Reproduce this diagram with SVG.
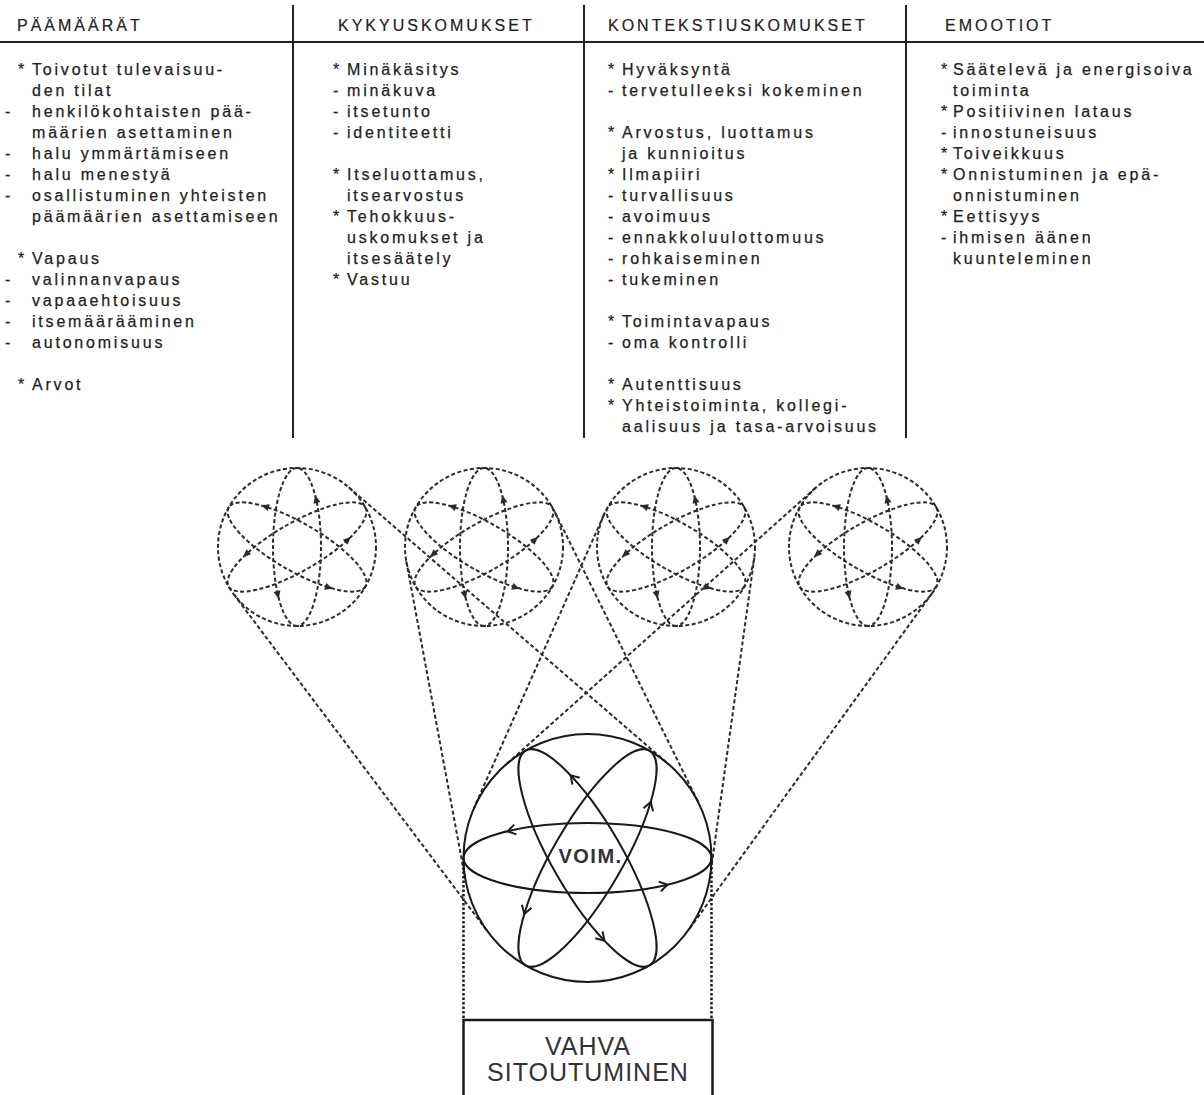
<svg xmlns="http://www.w3.org/2000/svg" xmlns:xlink="http://www.w3.org/1999/xlink" width="1204" height="1095" viewBox="0 0 1204 1095">
<style>
.hd{font-family:"Liberation Sans",Arial,sans-serif;font-size:16px;letter-spacing:3px;fill:#222;stroke:#222;stroke-width:0.2}
.tx{font-family:"Liberation Sans",Arial,sans-serif;font-size:16px;letter-spacing:2.8px;fill:#222;stroke:#222;stroke-width:0.25}
.rule{stroke:#222;stroke-width:2;fill:none}
.dash{fill:none;stroke:#2b2b2b;stroke-width:2;stroke-dasharray:4 2.5}
.solid{fill:none;stroke:#1a1a1a;stroke-width:2}
.ah{fill:#2b2b2b}
.chev{fill:none;stroke:#1a1a1a;stroke-width:2}
.vdot{stroke:#1a1a1a;stroke-width:2.5;stroke-dasharray:2.5 2;fill:none}
.voim{font-family:"Liberation Sans",Arial,sans-serif;font-size:20px;font-weight:bold;letter-spacing:1.5px;fill:#333}
.box{font-family:"Liberation Sans",Arial,sans-serif;font-size:25px;letter-spacing:1px;fill:#333}
</style>
<defs>
<path id="tri" d="M4,0 L-4,-3.5 L-4,3.5Z"/>
<path id="chv" d="M-8,-5 L0,0 L-8,5"/>
<g id="orb-s">
<ellipse rx="79" ry="24" class="dash"/>
<use xlink:href="#tri" class="ah" transform="translate(48,19.1) rotate(-13)"/>
<use xlink:href="#tri" class="ah" transform="translate(-48,-19.1) rotate(167)"/>
</g>
<g id="atom-s">
<circle r="79" class="dash"/>
<use xlink:href="#orb-s" transform="rotate(90)"/>
<use xlink:href="#orb-s" transform="rotate(30)"/>
<use xlink:href="#orb-s" transform="rotate(-30)"/>
</g>
<g id="orb-b">
<ellipse rx="124" ry="35" class="solid"/>
<use xlink:href="#chv" class="chev" transform="translate(80,26.7) rotate(-13)"/>
<use xlink:href="#chv" class="chev" transform="translate(-80,-26.7) rotate(167)"/>
</g>
</defs>
<rect width="1204" height="1095" fill="#fff"/>

<g id="table-rules">
<line class="rule" x1="0" y1="42" x2="1204" y2="42"/>
<line class="rule" x1="293" y1="5" x2="293" y2="438"/>
<line class="rule" x1="584" y1="5" x2="584" y2="438"/>
<line class="rule" x1="906" y1="5" x2="906" y2="438"/>
</g>

<g id="col-paamaarat">
<text class="hd" x="17" y="31">PÄÄMÄÄRÄT</text>
<text class="tx" y="75"><tspan x="18">*</tspan><tspan x="32">Toivotut tulevaisuu-</tspan></text>
<text class="tx" x="32" y="96">den tilat</text>
<text class="tx" y="117"><tspan x="5">-</tspan><tspan x="32">henkilökohtaisten pää-</tspan></text>
<text class="tx" x="32" y="138">määrien asettaminen</text>
<text class="tx" y="159"><tspan x="5">-</tspan><tspan x="32">halu ymmärtämiseen</tspan></text>
<text class="tx" y="180"><tspan x="5">-</tspan><tspan x="32">halu menestyä</tspan></text>
<text class="tx" y="201"><tspan x="5">-</tspan><tspan x="32">osallistuminen yhteisten</tspan></text>
<text class="tx" x="32" y="222">päämäärien asettamiseen</text>
<text class="tx" y="264"><tspan x="18">*</tspan><tspan x="32">Vapaus</tspan></text>
<text class="tx" y="285"><tspan x="5">-</tspan><tspan x="32">valinnanvapaus</tspan></text>
<text class="tx" y="306"><tspan x="5">-</tspan><tspan x="32">vapaaehtoisuus</tspan></text>
<text class="tx" y="327"><tspan x="5">-</tspan><tspan x="32">itsemäärääminen</tspan></text>
<text class="tx" y="348"><tspan x="5">-</tspan><tspan x="32">autonomisuus</tspan></text>
<text class="tx" y="390"><tspan x="18">*</tspan><tspan x="32">Arvot</tspan></text>
</g>

<g id="col-kykyuskomukset">
<text class="hd" x="338" y="31">KYKYUSKOMUKSET</text>
<text class="tx" y="75"><tspan x="333">*</tspan><tspan x="347">Minäkäsitys</tspan></text>
<text class="tx" y="96"><tspan x="333">-</tspan><tspan x="347">minäkuva</tspan></text>
<text class="tx" y="117"><tspan x="333">-</tspan><tspan x="347">itsetunto</tspan></text>
<text class="tx" y="138"><tspan x="333">-</tspan><tspan x="347">identiteetti</tspan></text>
<text class="tx" y="180"><tspan x="333">*</tspan><tspan x="347">Itseluottamus,</tspan></text>
<text class="tx" x="347" y="201">itsearvostus</text>
<text class="tx" y="222"><tspan x="333">*</tspan><tspan x="347">Tehokkuus-</tspan></text>
<text class="tx" x="347" y="243">uskomukset ja</text>
<text class="tx" x="347" y="264">itsesäätely</text>
<text class="tx" y="285"><tspan x="333">*</tspan><tspan x="347">Vastuu</tspan></text>
</g>

<g id="col-kontekstiuskomukset">
<text class="hd" x="608" y="31">KONTEKSTIUSKOMUKSET</text>
<text class="tx" y="75"><tspan x="608">*</tspan><tspan x="622">Hyväksyntä</tspan></text>
<text class="tx" y="96"><tspan x="608">-</tspan><tspan x="622">tervetulleeksi kokeminen</tspan></text>
<text class="tx" y="138"><tspan x="608">*</tspan><tspan x="622">Arvostus, luottamus</tspan></text>
<text class="tx" x="622" y="159">ja kunnioitus</text>
<text class="tx" y="180"><tspan x="608">*</tspan><tspan x="622">Ilmapiiri</tspan></text>
<text class="tx" y="201"><tspan x="608">-</tspan><tspan x="622">turvallisuus</tspan></text>
<text class="tx" y="222"><tspan x="608">-</tspan><tspan x="622">avoimuus</tspan></text>
<text class="tx" y="243"><tspan x="608">-</tspan><tspan x="622">ennakkoluulottomuus</tspan></text>
<text class="tx" y="264"><tspan x="608">-</tspan><tspan x="622">rohkaiseminen</tspan></text>
<text class="tx" y="285"><tspan x="608">-</tspan><tspan x="622">tukeminen</tspan></text>
<text class="tx" y="327"><tspan x="608">*</tspan><tspan x="622">Toimintavapaus</tspan></text>
<text class="tx" y="348"><tspan x="608">-</tspan><tspan x="622">oma kontrolli</tspan></text>
<text class="tx" y="390"><tspan x="608">*</tspan><tspan x="622">Autenttisuus</tspan></text>
<text class="tx" y="411"><tspan x="608">*</tspan><tspan x="622">Yhteistoiminta, kollegi-</tspan></text>
<text class="tx" x="622" y="432">aalisuus ja tasa-arvoisuus</text>
</g>

<g id="col-emootiot">
<text class="hd" x="945" y="31">EMOOTIOT</text>
<text class="tx" y="75"><tspan x="941">*</tspan><tspan x="953">Säätelevä ja energisoiva</tspan></text>
<text class="tx" x="953" y="96">toiminta</text>
<text class="tx" y="117"><tspan x="941">*</tspan><tspan x="953">Positiivinen lataus</tspan></text>
<text class="tx" y="138"><tspan x="941">-</tspan><tspan x="953">innostuneisuus</tspan></text>
<text class="tx" y="159"><tspan x="941">*</tspan><tspan x="953">Toiveikkuus</tspan></text>
<text class="tx" y="180"><tspan x="941">*</tspan><tspan x="953">Onnistuminen ja epä-</tspan></text>
<text class="tx" x="953" y="201">onnistuminen</text>
<text class="tx" y="222"><tspan x="941">*</tspan><tspan x="953">Eettisyys</tspan></text>
<text class="tx" y="243"><tspan x="941">-</tspan><tspan x="953">ihmisen äänen</tspan></text>
<text class="tx" x="953" y="264">kuunteleminen</text>
</g>

<g id="connectors">
<line class="dash" x1="348.7" y1="487.3" x2="668.7" y2="764.3"/>
<line class="dash" x1="233.9" y1="594.5" x2="488.4" y2="932.6"/>
<line class="dash" x1="554.8" y1="512" x2="698.7" y2="803.1"/>
<line class="dash" x1="406.3" y1="561.4" x2="465.6" y2="880.6"/>
<line class="dash" x1="754.3" y1="557.8" x2="710.3" y2="875"/>
<line class="dash" x1="603.8" y1="515" x2="474.1" y2="807.8"/>
<line class="dash" x1="932" y1="593.3" x2="688" y2="930.7"/>
<line class="dash" x1="815.4" y1="488.1" x2="504.9" y2="765.5"/>
<line class="vdot" x1="463.5" y1="858" x2="463.5" y2="1020"/>
<line class="vdot" x1="711.5" y1="858" x2="711.5" y2="1020"/>
</g>

<g id="node-paamaarat-atom" transform="translate(297,547)"><use xlink:href="#atom-s"/></g>
<g id="node-kykyuskomukset-atom" transform="translate(484,547)"><use xlink:href="#atom-s"/></g>
<g id="node-kontekstiuskomukset-atom" transform="translate(676,547)"><use xlink:href="#atom-s"/></g>
<g id="node-emootiot-atom" transform="translate(868,547)"><use xlink:href="#atom-s"/></g>

<g id="node-voim" transform="translate(587.5,858)">
<circle r="124" class="solid"/>
<use xlink:href="#orb-b"/>
<use xlink:href="#orb-b" transform="rotate(60)"/>
<use xlink:href="#orb-b" transform="rotate(-60)"/>
<text class="voim" x="3" y="5" text-anchor="middle">VOIM.</text>
</g>

<g id="node-vahva-sitoutuminen">
<rect x="463.5" y="1020" width="249" height="90" fill="#fff" stroke="#1a1a1a" stroke-width="2.5"/>
<text class="box" x="588" y="1055" text-anchor="middle">VAHVA</text>
<text class="box" x="588" y="1081" text-anchor="middle">SITOUTUMINEN</text>
</g>
</svg>
